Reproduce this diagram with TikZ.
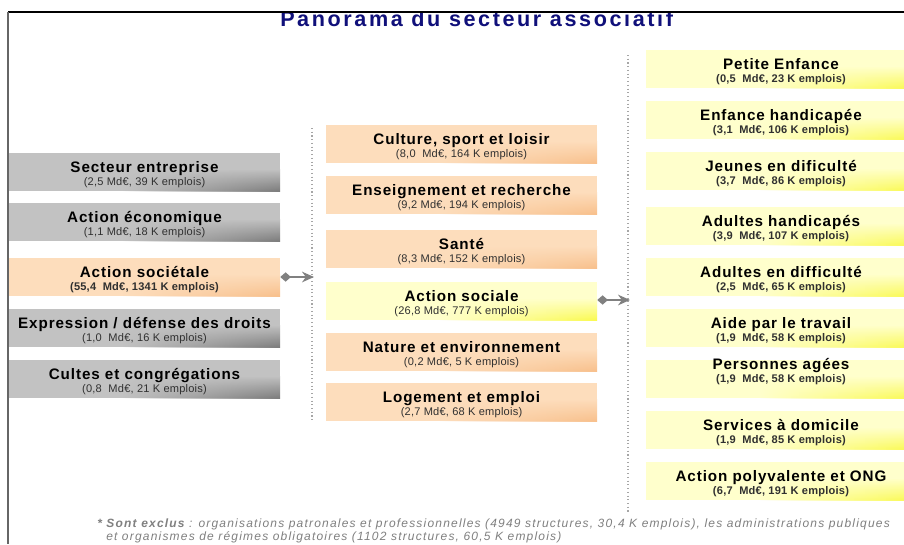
\documentclass[tikz,border=0pt]{standalone}
\usepackage{fontspec}
\setmainfont{Liberation Sans}
\newfontfamily\bxfont[LetterSpace=6]{Liberation Sans}
\newfontfamily\hdfont[LetterSpace=12]{Liberation Sans}
\newfontfamily\ftfont[LetterSpace=10]{Liberation Sans}
\newfontfamily\sbfont[LetterSpace=2]{Liberation Sans}
\usetikzlibrary{arrows.meta,fadings,calc}
\definecolor{graybase}{HTML}{C2C2C2}
\definecolor{graydark}{HTML}{7C7C7C}
\definecolor{orangebase}{HTML}{FDDDBC}
\definecolor{orangedark}{HTML}{F8C08C}
\definecolor{yellowbase}{HTML}{FFFFCC}
\definecolor{yellowdark}{HTML}{FAFA50}
\definecolor{navy}{HTML}{10107A}
\definecolor{subtext}{HTML}{303030}
\definecolor{conncol}{HTML}{808080}
\tikzfading[name=fadeinright, left color=transparent!100, right color=transparent!0]
\newcommand\tty{19}
\newcommand\sty{32}
% #1 name, #2 kind, #3 x1, #4 y1, #5 x2, #6 title, #7 sub
\newcommand\mkbox[7]{%
  \node[boxnode, fill=#2base, minimum width={(#5-#3)*0.75pt}] (#1) at ({(#3+#5)/2},{#4+19}) {};
  \shade[top color=#2base, bottom color=#2dark, path fading=fadeinright]
     ({#3+(#5-#3)*0.42},{#4+16}) rectangle (#5,{#4+38});
  \node[ttl] (#1-t) at ({(#3+#5)/2},{#4+\tty}) {#6};
  \node[sub] (#1-s) at ({(#3+#5)/2},{#4+\sty}) {#7};
}
\tikzset{
  boxnode/.style={rectangle, draw=none, minimum height=28.5pt, inner sep=0pt},
  ttl/.style={anchor=base, inner sep=0pt, font=\bxfont\bfseries\fontsize{11.4}{13}\selectfont, text=black},
  sub/.style={anchor=base, inner sep=0pt, font=\sbfont\fontsize{8.3}{9}\selectfont, text=subtext},
  conn/.style={draw=conncol, line width=1.1pt, {Diamond[length=8pt,width=7pt]}-{Stealth[length=9pt,width=8pt]}},
  sep/.style={draw=gray!70, line width=0.8pt, dotted},
  foot/.style={anchor=base west, inner sep=0pt, text=gray, font=\ftfont\itshape\fontsize{9}{10}\selectfont}
}
\begin{document}
\begin{tikzpicture}[x=0.75pt,y=-0.75pt]
\useasboundingbox (0,0) rectangle (904,544);
\fill[white] (0,0) rectangle (904,544);
% title
\begin{scope}
\clip (0,12) rectangle (904,544);
\node[anchor=base west, inner sep=0pt, text=navy, font=\hdfont\bfseries\fontsize{16.2}{18}\selectfont] (title) at (280,26)
  {Panorama du secteur associatif\textsuperscript{\normalfont\color{gray}*}};
\end{scope}
% frame
\draw[black, line width=1pt] (8,12) -- (904,12);
\draw[gray!80!black, line width=1.5pt] (8,12) -- (8,544);
% separators
\draw[sep] (312,128) -- (312,420);
\draw[sep] (628,55) -- (628,512);
% left column
\mkbox{se}{gray}{9}{153}{280}{Secteur entreprise}{(2,5 Md€, 39 K emplois)}
\mkbox{ae}{gray}{9}{203}{280}{Action économique}{(1,1 Md€, 18 K emplois)}
\mkbox{as}{orange}{9}{258}{280}{Action sociétale}{\bfseries(55,4~ Md€, 1341 K emplois)}
\mkbox{ed}{gray}{9}{309}{280}{Expression / défense des droits}{(1,0~ Md€, 16 K emplois)}
\mkbox{cc}{gray}{9}{360}{280}{Cultes et congrégations}{(0,8~ Md€, 21 K emplois)}
% middle column
\mkbox{cu}{orange}{326}{125}{597}{Culture, sport et loisir}{(8,0~ Md€, 164 K emplois)}
\mkbox{er}{orange}{326}{176}{597}{Enseignement et recherche}{(9,2 Md€, 194 K emplois)}
\mkbox{sa}{orange}{326}{230}{597}{Santé}{(8,3 Md€, 152 K emplois)}
\mkbox{aso}{yellow}{326}{282}{597}{Action sociale}{(26,8 Md€, 777 K emplois)}
\mkbox{ne}{orange}{326}{333}{597}{Nature et environnement}{(0,2 Md€, 5 K emplois)}
\mkbox{le}{orange}{326}{383}{597}{Logement et emploi}{(2,7 Md€, 68 K emplois)}
% right column
\mkbox{pe}{yellow}{646}{50}{916}{Petite Enfance}{\bfseries(0,5~ Md€, 23 K emplois)}
\mkbox{eh}{yellow}{646}{101}{916}{Enfance handicapée}{\bfseries(3,1~ Md€, 106 K emplois)}
\mkbox{jd}{yellow}{646}{152}{916}{Jeunes en dificulté}{\bfseries(3,7~ Md€, 86 K emplois)}
\mkbox{ah}{yellow}{646}{207}{916}{Adultes handicapés}{\bfseries(3,9~ Md€, 107 K emplois)}
\mkbox{ad}{yellow}{646}{258}{916}{Adultes en difficulté}{\bfseries(2,5~ Md€, 65 K emplois)}
\mkbox{at}{yellow}{646}{309}{916}{Aide par le travail}{\bfseries(1,9~ Md€, 58 K emplois)}
\begin{scope}
\renewcommand\tty{9}\renewcommand\sty{22}
\mkbox{pa}{yellow}{646}{360}{916}{Personnes agées}{\bfseries(1,9~ Md€, 58 K emplois)}
\end{scope}
\mkbox{sd}{yellow}{646}{411}{916}{Services à domicile}{\bfseries(1,9~ Md€, 85 K emplois)}
\mkbox{ap}{yellow}{646}{462}{916}{Action polyvalente et ONG}{\bfseries(6,7~ Md€, 191 K emplois)}
% connectors
\coordinate (m1) at (314,277);
\coordinate (m2) at (630,300);
\draw[conn] (as.east) -- (m1);
\draw[conn] (aso.east |- m2) -- (m2);
% footnote
\node[foot] (fn1) at (97,527) {{\bfseries * Sont exclus} : organisations patronales et professionnelles (4949 structures, 30,4 K emplois), les administrations publiques};
\node[foot] (fn2) at (106,540) {et organismes de régimes obligatoires (1102 structures, 60,5 K emplois)};
\end{tikzpicture}
\end{document}
